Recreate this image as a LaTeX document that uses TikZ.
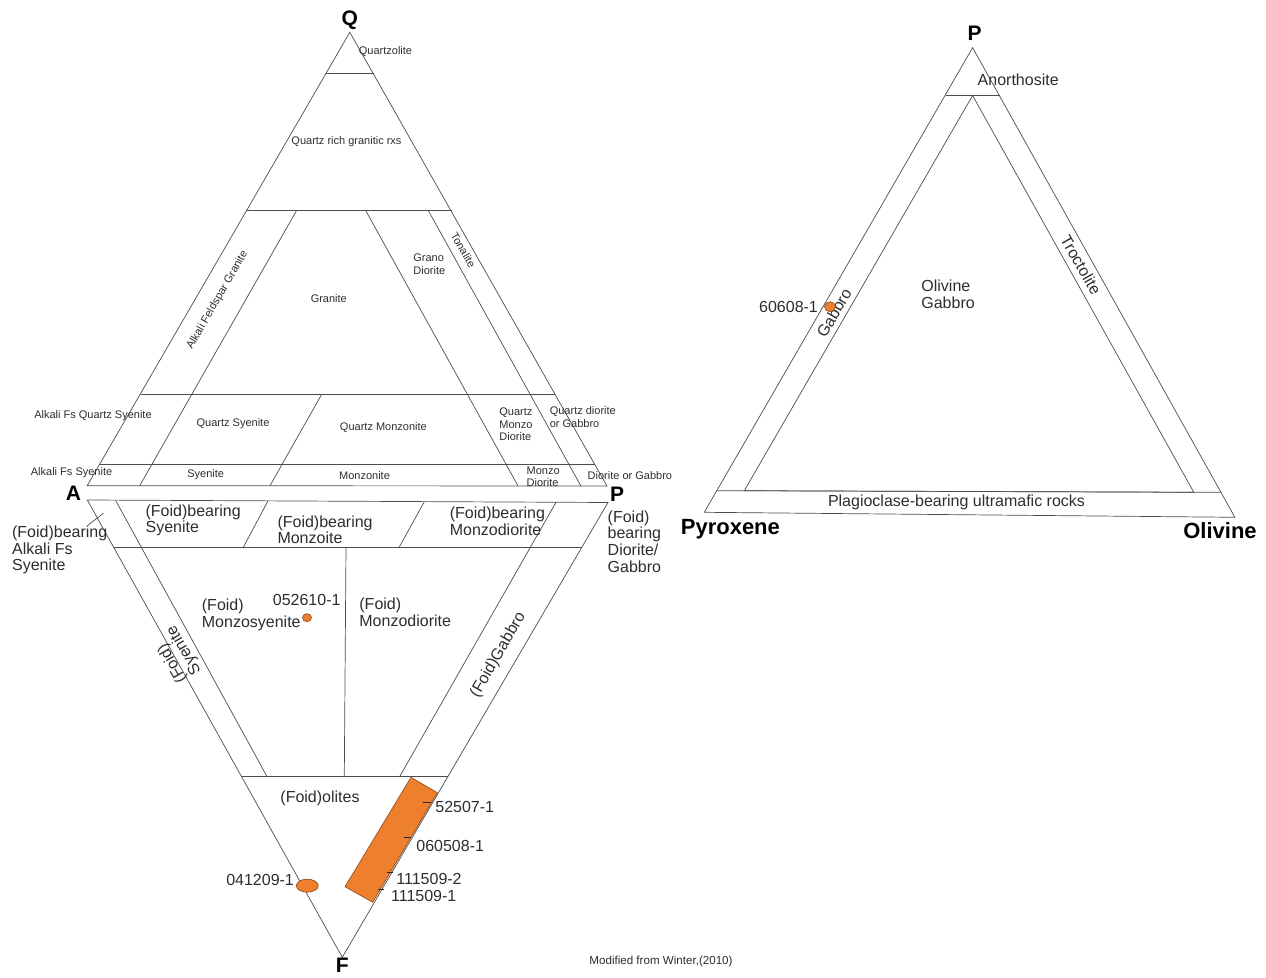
\documentclass[tikz,border=0pt]{standalone}
\usepackage{fontspec}
\setmainfont{Liberation Sans}
\definecolor{rockfill}{RGB}{238,128,45}
\definecolor{rockedge}{RGB}{140,70,25}
\definecolor{inkgray}{RGB}{45,45,45}

\begin{document}
\begin{tikzpicture}[x=0.5pt,y=-0.5pt,
    field/.style={draw=black!70,line width=0.35pt},
    smalllbl/.style={inner sep=0,text=inkgray,font=\fontsize{5.5}{6.3}\selectfont},
    biglbl/.style={inner sep=0,text=inkgray,font=\fontsize{8}{8.4}\selectfont},
    corner/.style={inner sep=0,font=\fontsize{10.5}{12}\selectfont\bfseries},
    endmember/.style={inner sep=0,font=\fontsize{11}{12}\selectfont\bfseries},
    sample/.style={fill=rockfill,draw=rockedge,line width=0.3pt},
    tick/.style={draw=black!85,line width=0.5pt}]
    \useasboundingbox (0,0) rectangle (1266,978);
    % QAP (upper) triangle
    \coordinate (Q) at (349.8,32.3);
    \coordinate (A) at (87.2,485.7);
    \coordinate (P) at (607,486);
    \draw[field] (Q) -- (A) -- (P) -- cycle;
    \draw[field] (326,73.3) -- (373.5,73.3);
    \draw[field] (246.5,210.7) -- (451.5,210.7);
    \draw[field] (140.5,394.3) -- (555,394.3);
    \draw[field] (100,464) -- (594.5,464);
    \draw[field] (296.5,210.7) -- (139.7,485.7);
    \draw[field] (321.7,394.3) -- (270,485.7);
    \draw[field] (365.8,210.7) -- (517.9,485.7);
    \draw[field] (428.4,210.7) -- (580.9,486);
    % FAP (lower) triangle
    \coordinate (A2) at (87.3,500);
    \coordinate (P2) at (608,502.5);
    \coordinate (F) at (342.3,957.3);
    \draw[field] (A2) -- (P2) -- (F) -- cycle;
    \draw[field] (115.5,500.2) -- (266.7,776);
    \draw[field] (113.5,547) -- (582,547);
    \draw[field] (268,500.8) -- (243.5,547);
    \draw[field] (424.2,502) -- (399,547.5);
    \draw[field] (556,502.3) -- (400,776);
    \draw[field] (346,547) -- (344.3,776);
    \draw[field] (241.2,776) -- (448.3,776);
    \draw[field] (103.3,513.3) -- (88.3,525);
    % P-Px-Ol triangle
    \coordinate (Pl) at (972.6,47.7);
    \coordinate (Px) at (704.3,512.3);
    \coordinate (Ol) at (1234.9,517.3);
    \draw[field] (Pl) -- (Px) -- (Ol) -- cycle;
    \draw[field] (945.5,95) -- (999.5,95);
    \draw[field] (717,490.7) -- (1221,492.3);
    \draw[field] (972.6,95.5) -- (744.3,490.7) -- (1193.8,492.3) -- cycle;

    \node[corner] (lblQ) at (349.8,20) {Q};
    \node[corner] (lblA) at (73.5,493.3) {A};
    \node[corner] (lblP) at (617,494) {P};
    \node[corner] (lblF) at (342.3,965) {F};
    \node[corner] (lblPl) at (974.5,33.3) {P};
    \node[endmember] (lblPx) at (730.4,529.5) {Pyroxene};
    \node[endmember] (lblOl) at (1220,531) {Olivine};

    \node[smalllbl] (qzl) at (385.5,51.7) {Quartzolite};
    \node[smalllbl] (qrg) at (346.5,141.7) {Quartz rich granitic rxs};
    \node[smalllbl,rotate=60] (afg) at (217.5,300) {Alkali Feldspar Granite};
    \node[smalllbl] (gra) at (328.8,299) {Granite};
    \node[smalllbl,anchor=west,align=left] (grd) at (413,264.3) {Grano\\Diorite};
    \node[smalllbl,rotate=-60] (ton) at (463.3,250) {Tonalite};
    \node[smalllbl,anchor=west] (afqs) at (33.9,415.7) {Alkali Fs Quartz Syenite};
    \node[smalllbl] (qsy) at (233,423.3) {Quartz Syenite};
    \node[smalllbl] (qmz) at (383.4,427.3) {Quartz Monzonite};
    \node[smalllbl,anchor=west,align=left] (qmd) at (499,424.3) {Quartz\\Monzo\\Diorite};
    \node[smalllbl,anchor=west,align=left] (qdg) at (549.4,417.3) {Quartz diorite\\or Gabbro};
    \node[smalllbl,anchor=west] (afs) at (30.5,472.3) {Alkali Fs Syenite};
    \node[smalllbl] (sye) at (205.7,475) {Syenite};
    \node[smalllbl] (mzn) at (364.5,475.7) {Monzonite};
    \node[smalllbl,anchor=west,align=left] (mzd) at (526.3,476.7) {Monzo\\Diorite};
    \node[smalllbl,anchor=west] (dgb) at (587.3,475.3) {Diorite or Gabbro};

    \node[biglbl,anchor=west,align=left] (fbafs) at (11.7,550) {(Foid)bearing\\Alkali Fs\\Syenite};
    \node[biglbl,anchor=west,align=left] (fbsy) at (145.2,520.3) {(Foid)bearing\\Syenite};
    \node[biglbl,anchor=west,align=left] (fbmz) at (277.1,529.7) {(Foid)bearing\\Monzoite};
    \node[biglbl,anchor=west,align=left] (fbmd) at (449.4,521.2) {(Foid)bearing\\Monzodiorite};
    \node[biglbl,anchor=west,align=left] (fbdg) at (607.3,541.5) {(Foid)\\bearing\\Diorite/\\Gabbro};
    \node[biglbl,anchor=west,align=left] (fmsy) at (201.5,614.7) {(Foid)\\Monzosyenite};
    \node[biglbl,anchor=west,align=left] (fmd) at (359,612.3) {(Foid)\\Monzodiorite};
    \node[biglbl,rotate=120,align=left] (fsy) at (177,654.3) {(Foid)\\Syenite};
    \node[biglbl,rotate=60] (fgb) at (498.3,655) {(Foid)Gabbro};
    \node[biglbl] (fol) at (320,798.3) {(Foid)olites};

    \node[biglbl,rotate=-60] (tro) at (1081,265) {Troctolite};
    \node[biglbl,rotate=60] (gab) at (834,313) {Gabbro};
    \node[biglbl] (ano) at (1018.2,80) {Anorthosite};
    \node[biglbl,anchor=west,align=left] (olg) at (921,294) {Olivine\\Gabbro};
    \node[biglbl] (pbu) at (956.5,502.7) {Plagioclase-bearing ultramafic rocks};

    % samples
    \filldraw[sample] (411,777.3) -- (437.3,792.7) -- (372.7,902.3) -- (345,886.7) -- cycle;
    \draw[tick] (423.3,802.7) -- (431,802.7);
    \draw[tick] (404,837.7) -- (411,837.7);
    \draw[tick] (387.3,872.3) -- (393.3,872.3);
    \draw[tick] (378.3,889.3) -- (384,889.3);
    \node[biglbl,anchor=west] (s1) at (435,807.3) {52507-1};
    \node[biglbl,anchor=west] (s2) at (416,845.7) {060508-1};
    \node[biglbl,anchor=west] (s3) at (396,879) {111509-2};
    \node[biglbl,anchor=west] (s4) at (390.7,896) {111509-1};
    \filldraw[sample] (307.3,885.7) ellipse [x radius=11,y radius=6.5];
    \node[biglbl,anchor=east] (s5) at (294.3,880) {041209-1};
    \filldraw[sample] (307,617.7) ellipse [x radius=4.5,y radius=4];
    \node[biglbl] (s6) at (306.7,600) {052610-1};
    \filldraw[sample] (830,306.7) ellipse [x radius=5.5,y radius=5];
    \node[biglbl,anchor=east] (s7) at (818.3,306.7) {60608-1};

    \node[inner sep=0,text=inkgray,font=\fontsize{5.8}{7}\selectfont] (src) at (661,961) {Modified from Winter,(2010)};
\end{tikzpicture}
\end{document}
